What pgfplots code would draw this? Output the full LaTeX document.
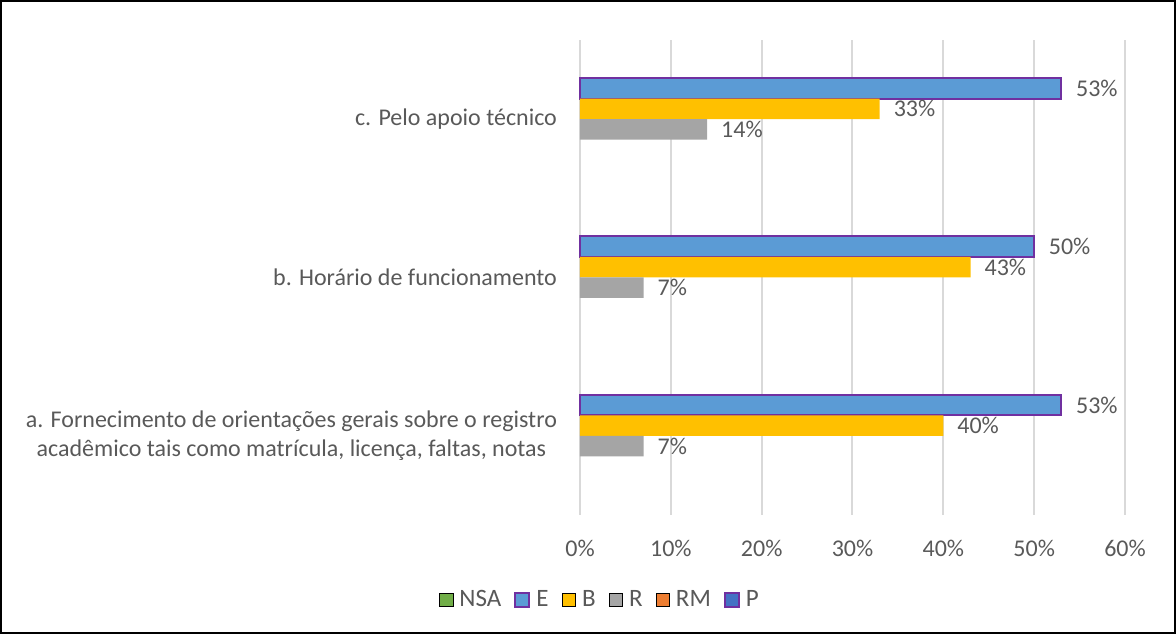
\documentclass[border=0pt]{standalone}
\usepackage{fontspec}
\setmainfont{Carlito}
\usepackage{pgfplots}
\pgfplotsset{compat=1.18}
\definecolor{nsag}{HTML}{70AD47}
\definecolor{eblue}{HTML}{5B9BD5}
\definecolor{epurp}{HTML}{7030A0}
\definecolor{byel}{HTML}{FFC000}
\definecolor{rgray}{HTML}{A5A5A5}
\definecolor{rmor}{HTML}{ED7D31}
\definecolor{pblue}{HTML}{4472C4}
\definecolor{txt}{HTML}{595959}
\definecolor{gridc}{HTML}{D9D9D9}
\begin{document}
\begin{tikzpicture}
\begin{axis}[
  scale only axis, width=272.5pt, height=237.5pt, clip=false,
  xbar, bar width=10.25pt,
  xmin=0, xmax=60, ymin=-0.5, ymax=2.5,
  xtick={0,10,20,30,40,50,60},
  xticklabel={\pgfmathprintnumber{\tick}\%},
  ytick={0,1,2},
  yticklabels={{a. Fornecimento de orientações gerais sobre o registro\\acadêmico tais como matrícula, licença, faltas, notas},
    {b. Horário de funcionamento},{c. Pelo apoio técnico}},
  /pgf/number format/assume math mode=true,
  font=\fontsize{12}{14.5}\selectfont,
  ticklabel style={text=txt},
  yticklabel style={align=center, xshift=-8pt},
  xticklabel style={yshift=-9pt},
  axis line style={draw=none}, major tick length=0pt,
  xmajorgrids, grid style={gridc, line width=1pt},
  point meta=x,
  nodes near coords={\pgfmathprintnumber{\pgfplotspointmeta}\%},
  nodes near coords style={anchor=west, xshift=3.5pt, text=txt, font=\fontsize{12}{14.5}\selectfont},
  legend style={at={(rel axis cs:0.0385,-0.179)}, anchor=center, draw=none,
    legend columns=6, font=\fontsize{12.5}{15}\selectfont, text=txt,
    /tikz/every even column/.append style={column sep=4.5pt}},
  legend image code/.code={\draw[#1] (0pt,-3.4pt) rectangle (6.8pt,3.4pt); \path (8pt,0pt);},
]
\addlegendimage{fill=nsag, draw=none}
\addlegendentry{NSA}
\addplot[fill=eblue, draw=epurp, line width=1pt, bar shift=15.375pt] coordinates {(53,2) (50,1) (53,0)};
\addlegendentry{E}
\addplot[fill=byel, draw=none, bar shift=5.125pt] coordinates {(33,2) (43,1) (40,0)};
\addlegendentry{B}
\addplot[fill=rgray, draw=none, bar shift=-5.125pt] coordinates {(14,2) (7,1) (7,0)};
\addlegendentry{R}
\addlegendimage{fill=rmor, draw=none}
\addlegendentry{RM}
\addlegendimage{fill=pblue, draw=epurp, line width=1pt}
\addlegendentry{P}
\draw[black, line width=1pt] ([xshift=-289.5pt,yshift=19.5pt]rel axis cs:0,1) rectangle ([xshift=25pt,yshift=-59pt]rel axis cs:1,0);
\end{axis}
\end{tikzpicture}
\end{document}
